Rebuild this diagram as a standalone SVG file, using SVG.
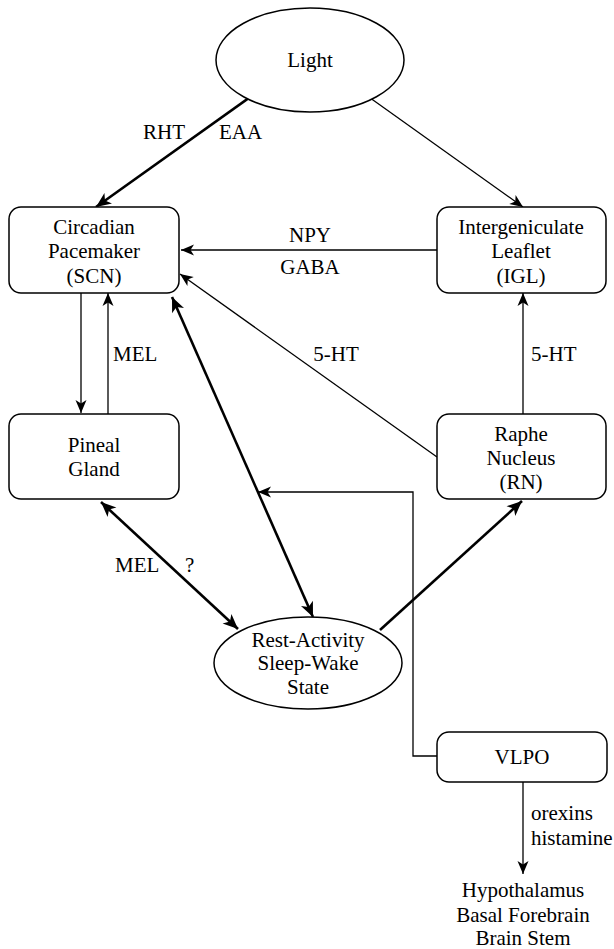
<svg xmlns="http://www.w3.org/2000/svg" width="614" height="949" viewBox="0 0 614 949">
<style>
text{font-family:'Liberation Serif','DejaVu Serif',serif;font-size:21px;fill:#000;text-anchor:middle}
.l{text-anchor:start}
.r{text-anchor:end}
.box{fill:#fff;stroke:#000;stroke-width:1.5}
.thin{fill:none;stroke:#000;stroke-width:1.3}
.thick{fill:none;stroke:#000;stroke-width:2.6}
</style>
<defs>
<marker id="a" viewBox="-15 -7 17 14" refX="0" refY="0" markerWidth="17" markerHeight="14" markerUnits="userSpaceOnUse" orient="auto-start-reverse">
<path d="M0,0 L-13,-5.5 L-9.5,0 L-13,5.5 Z" fill="#000"/>
</marker>
<marker id="b" viewBox="-17 -8 19 16" refX="0" refY="0" markerWidth="19" markerHeight="16" markerUnits="userSpaceOnUse" orient="auto-start-reverse">
<path d="M0,0 L-15,-6.5 L-11,0 L-15,6.5 Z" fill="#000"/>
</marker>
</defs>
<g font-family="Liberation Serif, DejaVu Serif, serif" font-size="21">
<g id="connectors">
<path class="thick" d="M260,90 L96,207" marker-end="url(#b)"/>
<path class="thin" d="M359,90 L523,207" marker-end="url(#a)"/>
<path class="thin" d="M437,250 L181,250" marker-end="url(#a)"/>
<path class="thin" d="M81,293 L81,413" marker-end="url(#a)"/>
<path class="thin" d="M108,414 L108,293" marker-end="url(#a)"/>
<path class="thin" d="M437,457 L180,274" marker-end="url(#a)"/>
<path class="thin" d="M523,414 L523,293" marker-end="url(#a)"/>
<path class="thick" d="M172,297 L313,617" marker-start="url(#b)" marker-end="url(#b)"/>
<path class="thick" d="M101,502 L238,629" marker-start="url(#b)" marker-end="url(#b)"/>
<path class="thick" d="M380,630 L522,501" marker-end="url(#b)"/>
<path class="thin" d="M437,756 L413,756 L413,492 L258,492" marker-end="url(#a)"/>
<path class="thin" d="M523,782 L523,874" marker-end="url(#a)"/>
<text x="185" y="139" class="r">RHT</text>
<text x="219" y="139" class="l">EAA</text>
<text x="310" y="242">NPY</text>
<text x="310" y="274">GABA</text>
<text x="113" y="361" class="l">MEL</text>
<text x="336" y="361">5-HT</text>
<text x="531" y="361" class="l">5-HT</text>
<text x="115" y="572" class="l">MEL</text>
<text x="185" y="572" class="l">?</text>
<text x="531" y="820" class="l">orexins</text>
<text x="531" y="845" class="l">histamine</text>
</g>
<g id="light">
<ellipse class="box" cx="310" cy="60" rx="94" ry="52"/>
<text x="310" y="67">Light</text>
</g>
<g id="scn">
<rect class="box" x="9" y="207" width="170" height="86" rx="12"/>
<text x="94" y="234">Circadian</text>
<text x="94" y="258">Pacemaker</text>
<text x="94" y="283">(SCN)</text>
</g>
<g id="igl">
<rect class="box" x="437" y="207" width="169" height="86" rx="12"/>
<text x="521" y="234">Intergeniculate</text>
<text x="521" y="258">Leaflet</text>
<text x="521" y="283">(IGL)</text>
</g>
<g id="pineal">
<rect class="box" x="9" y="414" width="170" height="85" rx="12"/>
<text x="94" y="452">Pineal</text>
<text x="94" y="476">Gland</text>
</g>
<g id="rn">
<rect class="box" x="437" y="414" width="169" height="85" rx="12"/>
<text x="521" y="441">Raphe</text>
<text x="521" y="465">Nucleus</text>
<text x="521" y="489">(RN)</text>
</g>
<g id="rest">
<ellipse class="box" cx="308" cy="663" rx="94" ry="46"/>
<text x="308" y="647">Rest-Activity</text>
<text x="308" y="670">Sleep-Wake</text>
<text x="308" y="694">State</text>
</g>
<g id="vlpo">
<rect class="box" x="437" y="732" width="170" height="50" rx="12"/>
<text x="522" y="764">VLPO</text>
</g>
<g id="targets">
<text x="523" y="897">Hypothalamus</text>
<text x="523" y="922">Basal Forebrain</text>
<text x="523" y="945">Brain Stem</text>
</g>
</g>
</svg>
